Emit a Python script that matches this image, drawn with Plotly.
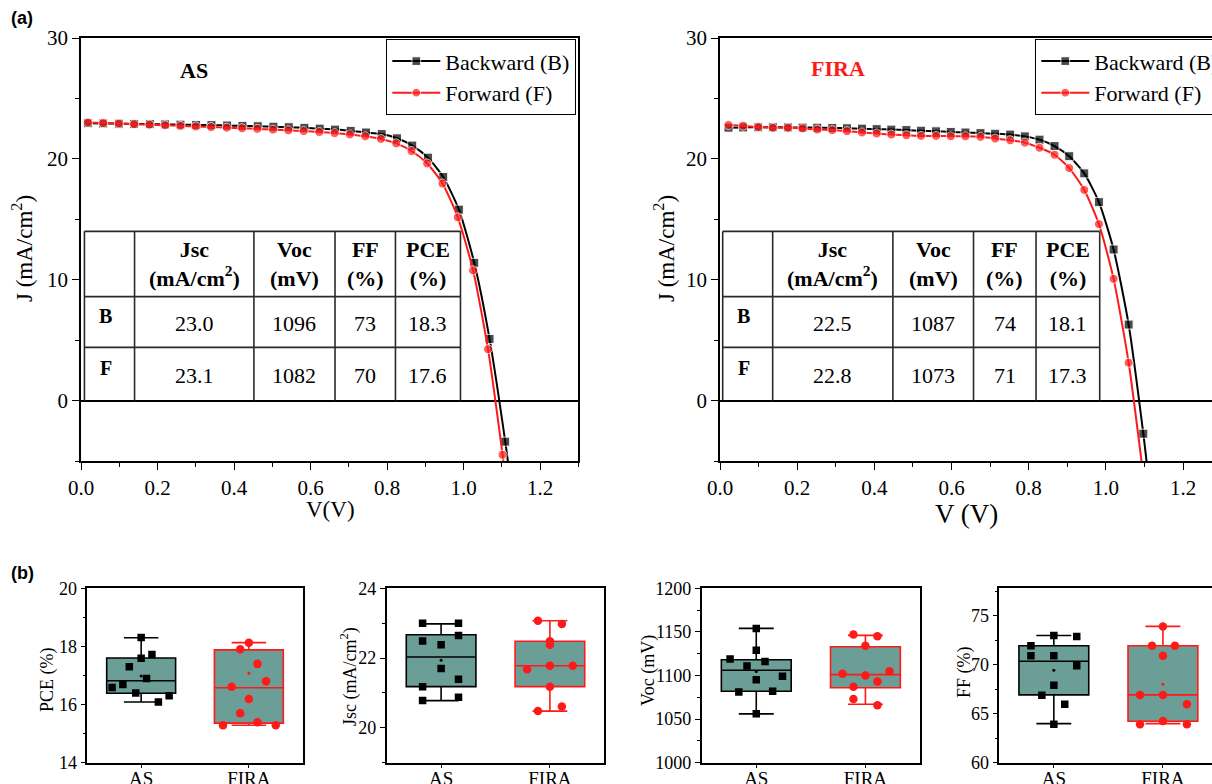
import plotly.graph_objects as go

W, H = 1212, 784
SERIF = "Liberation Serif, Times New Roman, serif"
SANS = "Liberation Sans, Arial, sans-serif"
TEAL = "#6b9e96"
RED = "#ff1a1a"

# ---------------- (a) J-V data ----------------
as_b_v = [0.018, 0.058, 0.099, 0.139, 0.180, 0.220, 0.260, 0.301, 0.341, 0.382, 0.422, 0.462, 0.503, 0.543,
          0.584, 0.624, 0.664, 0.705, 0.745, 0.786, 0.826, 0.866, 0.907, 0.947, 0.988, 1.028, 1.068, 1.109, 1.125]
as_b_j = [22.95, 22.93, 22.91, 22.89, 22.87, 22.85, 22.83, 22.81, 22.79, 22.76, 22.73, 22.70, 22.66, 22.62,
          22.57, 22.50, 22.42, 22.32, 22.18, 22.05, 21.70, 21.10, 20.10, 18.50, 15.80, 11.40, 5.10, -3.40, -7.20]
as_f_v = [0.018, 0.058, 0.099, 0.139, 0.179, 0.220, 0.260, 0.300, 0.340, 0.381, 0.421, 0.461, 0.502, 0.542,
          0.582, 0.623, 0.663, 0.703, 0.743, 0.784, 0.824, 0.864, 0.905, 0.945, 0.985, 1.025, 1.064, 1.102, 1.112]
as_f_j = [23.00, 22.96, 22.92, 22.87, 22.83, 22.78, 22.73, 22.68, 22.63, 22.58, 22.53, 22.48, 22.42, 22.36,
          22.30, 22.22, 22.13, 22.02, 21.87, 21.65, 21.28, 20.65, 19.62, 17.96, 15.16, 10.77, 4.25, -4.48, -7.00]

fira_b_v = [0.022, 0.060, 0.099, 0.137, 0.176, 0.214, 0.252, 0.291, 0.329, 0.368, 0.406, 0.444, 0.483, 0.521,
            0.560, 0.598, 0.636, 0.675, 0.713, 0.752, 0.790, 0.828, 0.867, 0.905, 0.944, 0.982, 1.020, 1.059,
            1.097, 1.110]
fira_b_j = [22.58, 22.60, 22.61, 22.61, 22.60, 22.59, 22.58, 22.56, 22.53, 22.50, 22.46, 22.42, 22.38, 22.33,
            22.28, 22.23, 22.18, 22.13, 22.08, 22.01, 21.86, 21.59, 21.06, 20.22, 18.80, 16.42, 12.50, 6.29,
            -2.74, -6.30]
fira_f_v = [0.022, 0.060, 0.099, 0.137, 0.176, 0.214, 0.252, 0.291, 0.329, 0.368, 0.406, 0.444, 0.483, 0.521,
            0.560, 0.598, 0.636, 0.675, 0.713, 0.752, 0.790, 0.828, 0.867, 0.905, 0.944, 0.982, 1.020, 1.059,
            1.097]
fira_f_j = [22.80, 22.74, 22.63, 22.57, 22.57, 22.52, 22.43, 22.38, 22.29, 22.18, 22.10, 22.01, 21.96, 21.90,
            21.90, 21.87, 21.87, 21.82, 21.68, 21.54, 21.34, 20.92, 20.34, 19.24, 17.43, 14.60, 10.07, 3.13,
            -6.20]

# inset tables
tab_header = ["<b>Jsc</b><br><b>(mA/cm<sup>2</sup>)</b>", "<b>Voc</b><br><b>(mV)</b>",
              "<b>FF</b><br><b>(%)</b>", "<b>PCE</b><br><b>(%)</b>"]
tab_rows = ["B", "F"]
as_tab = [["23.0", "1096", "73", "18.3"], ["23.1", "1082", "70", "17.6"]]
fira_tab = [["22.5", "1087", "74", "18.1"], ["22.8", "1073", "71", "17.3"]]

# ---------------- (b) statistics ----------------
cats = ["AS", "FIRA"]
pce_as = [18.31, 17.72, 17.59, 17.30, 16.90, 16.59, 16.69, 16.40, 16.30, 16.09]
pce_as_jit = [0.0, 0.10, 0.0, -0.11, 0.05, -0.27, -0.17, -0.05, 0.26, 0.16]
pce_fira = [18.13, 17.90, 17.40, 16.80, 16.61, 16.19, 15.70, 15.39, 15.29, 15.29]
pce_fira_jit = [0.0, -0.08, 0.08, 0.16, -0.16, 0.0, -0.08, 0.08, -0.24, 0.25]
pce_stats = [[16.09, 16.39, 16.82, 17.60, 18.30], [15.29, 15.36, 16.58, 17.88, 18.13]]
pce_mean = [16.98, 17.08]

jsc_as = [23.00, 23.00, 22.65, 22.49, 22.38, 21.70, 21.39, 21.18, 20.88, 20.78]
jsc_as_jit = [-0.17, 0.16, 0.16, -0.17, 0.0, 0.0, 0.16, -0.17, 0.16, -0.17]
jsc_fira = [23.07, 22.98, 22.48, 22.38, 21.68, 21.78, 21.78, 21.18, 20.61, 20.48]
jsc_fira_jit = [-0.11, 0.11, 0.0, 0.0, -0.21, 0.0, 0.21, 0.0, 0.11, -0.11]
jsc_stats = [[20.78, 21.18, 22.03, 22.67, 22.98], [20.48, 21.18, 21.78, 22.48, 23.07]]
jsc_mean = [21.94, 21.80]

voc_as = [1154, 1129, 1119, 1116, 1111, 1095, 1099, 1081, 1082, 1056]
voc_as_jit = [0.0, 0.0, -0.24, 0.08, -0.085, 0.0, 0.24, -0.16, 0.15, 0.0]
voc_fira = [1147, 1145, 1134, 1102, 1100, 1105, 1093, 1087, 1073, 1066]
voc_fira_jit = [-0.11, 0.11, 0.0, -0.21, 0.0, 0.22, 0.11, -0.11, -0.11, 0.11]
voc_stats = [[1056, 1082, 1106, 1118, 1154], [1067, 1086, 1101, 1133, 1146]]
voc_mean = [1104.5, 1103.0]

ff_as = [72.99, 72.89, 71.93, 70.91, 70.91, 69.89, 67.91, 66.89, 65.96, 63.92]
ff_as_jit = [0.0, 0.21, -0.21, -0.21, 0.0, 0.21, 0.0, -0.11, 0.10, 0.0]
ff_fira = [73.91, 71.93, 71.93, 70.91, 66.92, 66.92, 65.96, 64.26, 63.92, 63.92]
ff_fira_jit = [0.0, -0.10, 0.11, 0.0, -0.21, 0.0, 0.22, 0.0, -0.21, 0.22]
ff_stats = [[63.99, 66.92, 70.36, 71.93, 72.99], [63.99, 64.23, 66.92, 71.93, 73.91]]
ff_mean = [69.44, 68.00]


def fx(px):
    return px / W


def fy(py):
    return 1 - py / H


fig = go.Figure()


# ---------------- J-V traces ----------------
def jv_trace(v, j, color, symbol, name, xa, ya, leg, nmeas):
    sizes = [9] * nmeas + [0] * (len(v) - nmeas)
    return go.Scatter(x=v, y=j, mode="lines+markers", name=name, legend=leg,
                      line=dict(color=color, width=2, shape="spline", smoothing=0.6),
                      marker=dict(color=color, symbol=symbol, size=sizes),
                      xaxis=xa, yaxis=ya, cliponaxis=True)


fig.add_trace(jv_trace(as_b_v, as_b_j, "black", "square", "Backward (B)", "x", "y", "legend", len(as_b_v) - 1))
fig.add_trace(jv_trace(as_f_v, as_f_j, RED, "circle", "Forward (F)", "x", "y", "legend", len(as_f_v) - 1))
fig.add_trace(jv_trace(fira_b_v, fira_b_j, "black", "square", "Backward (B)", "x2", "y2", "legend2", len(fira_b_v) - 1))
fig.add_trace(jv_trace(fira_f_v, fira_f_j, RED, "circle", "Forward (F)", "x2", "y2", "legend2", len(fira_f_v) - 1))


# ---------------- box plots ----------------
def box_group(n, vals_as, jit_as, vals_fira, jit_fira, stats, means):
    xa, ya = "x%d" % n, "y%d" % n
    for k, (col, sym, vals, jit) in enumerate([("black", "square", vals_as, jit_as),
                                               (RED, "circle", vals_fira, jit_fira)]):
        st = stats[k]
        fig.add_trace(go.Box(x=[k + 1], lowerfence=[st[0]], q1=[st[1]], median=[st[2]], q3=[st[3]],
                             upperfence=[st[4]], width=0.64, whiskerwidth=0.5, fillcolor=TEAL,
                             line=dict(color=col, width=1.6), boxpoints=False, showlegend=False,
                             xaxis=xa, yaxis=ya, hoverinfo="skip"))
        fig.add_trace(go.Scatter(x=[k + 1 + d for d in jit], y=vals, mode="markers", showlegend=False,
                                 marker=dict(color=col, symbol=sym, size=7.5 if sym == "square" else 8.5),
                                 xaxis=xa, yaxis=ya))
        fig.add_trace(go.Scatter(x=[k + 1], y=[means[k]], mode="markers", showlegend=False,
                                 marker=dict(color=col, symbol="circle", size=3),
                                 xaxis=xa, yaxis=ya))


box_group(3, pce_as, pce_as_jit, pce_fira, pce_fira_jit, pce_stats, pce_mean)
box_group(4, jsc_as, jsc_as_jit, jsc_fira, jsc_fira_jit, jsc_stats, jsc_mean)
box_group(5, voc_as, voc_as_jit, voc_fira, voc_fira_jit, voc_stats, voc_mean)
box_group(6, ff_as, ff_as_jit, ff_fira, ff_fira_jit, ff_stats, ff_mean)

# ---------------- axes ----------------
top_tick = dict(family=SERIF, size=21, color="black")
bot_tick = dict(family=SERIF, size=18, color="black")


def xax(dom, rng, anchor, mirror=True, **kw):
    d = dict(domain=dom, range=rng, anchor=anchor, showline=True, linecolor="black", linewidth=1.5,
             mirror=mirror, ticks="outside", ticklen=7, tickwidth=1.3, tickcolor="black",
             showgrid=False, zeroline=False, fixedrange=True)
    d.update(kw)
    return d


layout_axes = {}
# top-left
layout_axes["xaxis"] = xax([fx(81), fx(578.3)], [0, 1.3], "y", dtick=0.2, tick0=0, tickformat=".1f",
                           tickfont=top_tick, minor=dict(dtick=0.1, ticks="outside", ticklen=4, tickcolor="black"))
layout_axes["yaxis"] = xax([fy(461), fy(38)], [-5, 30], "x", dtick=10, tick0=0, tickfont=top_tick,
                           zeroline=True, zerolinecolor="black", zerolinewidth=1.6,
                           minor=dict(dtick=5, ticks="outside", ticklen=4, tickcolor="black"))
# top-right
layout_axes["xaxis2"] = xax([fx(720), 1.0], [0, 1.275], "y2", dtick=0.2, tick0=0, tickformat=".1f",
                            tickfont=top_tick, minor=dict(dtick=0.1, ticks="outside", ticklen=4, tickcolor="black"))
layout_axes["yaxis2"] = xax([fy(461), fy(38)], [-5, 30], "x2", mirror=False, dtick=10, tick0=0, tickfont=top_tick,
                            zeroline=True, zerolinecolor="black", zerolinewidth=1.6,
                            minor=dict(dtick=5, ticks="outside", ticklen=4, tickcolor="black"))

bot_y = [fy(762.7), fy(588.3)]
bot_specs = [
    (3, [87.3, 302.7], [0.5, 2.5], [14, 20], 2, 1, True),
    (4, [386.7, 604.3], [0.5, 2.5], [19, 24], 2, 1, True),
    (5, [701.7, 920.0], [0.5, 2.5], [1000, 1200], 50, 25, True),
    (6, [999.3, 1212.0], [0.5, 2.45], [60, 77.8], 5, 2.5, False),
]
for n, xs, xr, yr, dt, mdt, mir in bot_specs:
    layout_axes["xaxis%d" % n] = xax([fx(xs[0]), min(1.0, fx(xs[1]))], xr, "y%d" % n, tickvals=[1, 2],
                                     ticktext=cats, ticklen=4, ticklabelstandoff=-6,
                                     tickfont=dict(family=SERIF, size=19, color="black"))
    layout_axes["yaxis%d" % n] = xax(bot_y, yr, "x%d" % n, mirror=mir, dtick=dt, tick0=0, ticklen=5,
                                     tickfont=bot_tick,
                                     minor=dict(dtick=mdt, ticks="outside", ticklen=3, tickcolor="black"))

# ---------------- tables, labels ----------------
shapes = []
annotations = []
tab_cols = {"x": [0.009, 0.140, 0.452, 0.664, 0.822, 0.992],
            "x2": [0.007, 0.1365, 0.448, 0.657, 0.819, 0.984]}
tab_ys = [14.0, 8.6, 4.4, 0.0]
TL = dict(color="#2a2a2a", width=1.6)
for xr_, yr_, tab in [("x", "y", as_tab), ("x2", "y2", fira_tab)]:
    cols = tab_cols[xr_]
    for c in cols:
        shapes.append(dict(type="line", xref=xr_, yref=yr_, x0=c, x1=c, y0=tab_ys[-1], y1=tab_ys[0], line=TL))
    for r in tab_ys[:-1]:
        shapes.append(dict(type="line", xref=xr_, yref=yr_, x0=cols[0], x1=cols[-1], y0=r, y1=r, line=TL))
    for ci in range(4):
        xc = (cols[ci + 1] + cols[ci + 2]) / 2
        annotations.append(dict(xref=xr_, yref=yr_, x=xc, y=(tab_ys[0] + tab_ys[1]) / 2, text=tab_header[ci],
                                showarrow=False, font=dict(family=SERIF, size=22, color="black")))
        for ri in range(2):
            annotations.append(dict(xref=xr_, yref=yr_, x=xc, y=(tab_ys[ri + 1] + tab_ys[ri + 2]) / 2 - 0.1,
                                    text=tab[ri][ci], showarrow=False,
                                    font=dict(family=SERIF, size=22, color="black")))
    for ri in range(2):
        annotations.append(dict(xref=xr_, yref=yr_, x=(cols[0] + cols[1]) / 2 - 0.01,
                                y=(tab_ys[ri + 1] + tab_ys[ri + 2]) / 2 + 0.5, text="<b>%s</b>" % tab_rows[ri],
                                showarrow=False, font=dict(family=SERIF, size=20, color="black")))

annotations.append(dict(xref="x", yref="y", x=0.295, y=27.3, text="<b>AS</b>", showarrow=False,
                        font=dict(family=SERIF, size=22, color="black")))
annotations.append(dict(xref="x2", yref="y2", x=0.306, y=27.5, text="<b>FIRA</b>", showarrow=False,
                        font=dict(family=SERIF, size=22, color=RED)))


def pann(x, y, text, size, angle=0, family=SERIF):
    annotations.append(dict(xref="paper", yref="paper", x=fx(x), y=fy(y), text=text, showarrow=False,
                            textangle=angle, xanchor="center", yanchor="middle",
                            font=dict(family=family, size=size, color="black")))


pann(22, 18, "<b>(a)</b>", 18, family=SANS)
pann(22, 573, "<b>(b)</b>", 18, family=SANS)
pann(23, 249, "J (mA/cm<sup>2</sup>)", 23, angle=-90)
pann(665, 249, "J (mA/cm<sup>2</sup>)", 23, angle=-90)
pann(330, 509, "V(V)", 23)
pann(966, 514, "V (V)", 27)
pann(47, 680, "PCE (%)", 18, angle=-90)
pann(349, 677, "Jsc (mA/cm<sup>2</sup>)", 18, angle=-90)
pann(648, 671, "Voc (mV)", 18, angle=-90)
pann(964, 672, "FF (%)", 18, angle=-90)

leg_common = dict(bordercolor="black", borderwidth=1.3, bgcolor="white", yanchor="top",
                  font=dict(family=SERIF, size=22, color="black"), tracegroupgap=0, itemwidth=48)

fig.update_layout(
    width=W, height=H, margin=dict(l=0, r=0, t=0, b=0, autoexpand=False),
    paper_bgcolor="white", plot_bgcolor="white",
    shapes=shapes, annotations=annotations,
    legend=dict(x=fx(576), xanchor="right", y=fy(39), **leg_common),
    legend2=dict(x=fx(1035), xanchor="left", y=fy(39), **leg_common),
    **layout_axes,
)

fig.write_html("out.html", config={"displayModeBar": False},
               post_script="document.body.style.margin='0px';")
